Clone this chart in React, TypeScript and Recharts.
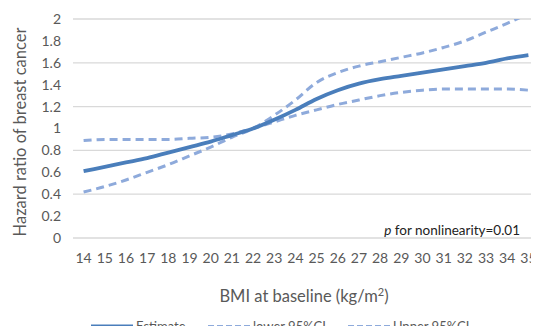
import React from "react";
import { LineChart, Line, XAxis, YAxis, CartesianGrid } from "recharts";

const bmi = [14, 15, 16, 17, 18, 19, 20, 21, 22, 23, 24, 25, 26, 27, 28, 29, 30, 31, 32, 33, 34, 35];
const estimate = [0.61, 0.65, 0.69, 0.73, 0.78, 0.83, 0.88, 0.94, 1.0, 1.08, 1.17, 1.27, 1.35, 1.41, 1.45, 1.48, 1.51, 1.54, 1.57, 1.6, 1.64, 1.67];
const lower = [0.89, 0.9, 0.9, 0.9, 0.9, 0.91, 0.92, 0.95, 1.0, 1.06, 1.12, 1.17, 1.22, 1.26, 1.3, 1.33, 1.35, 1.36, 1.36, 1.36, 1.36, 1.35];
const upper = [0.42, 0.47, 0.53, 0.6, 0.67, 0.75, 0.83, 0.92, 1.0, 1.12, 1.26, 1.42, 1.51, 1.57, 1.61, 1.65, 1.69, 1.74, 1.8, 1.88, 1.96, 2.05];
const yTicks = [0, 0.2, 0.4, 0.6, 0.8, 1, 1.2, 1.4, 1.6, 1.8, 2];
const legendItems = [
  { label: "Estimate", dashed: false, x: 91 },
  { label: "lower 95%CI", dashed: true, x: 208 },
  { label: "Upper 95%CI", dashed: true, x: 348 },
];

const data = bmi.map((b, i) => ({ bmi: b, est: estimate[i], lo: lower[i], up: upper[i] }));

const FONT = "Lato, 'Open Sans', sans-serif";
const TEXT = "#595959";
const DARK = "#4a7ebb";
const LIGHT = "#8eaadb";

// x axis title, plus the p-value note and the legend, all drawn in the svg
function BottomTexts() {
  return (
    <g>
      <text x={304} y={302} textAnchor="middle" fill={TEXT} fontSize={16.5} fontFamily={FONT}>
        BMI at baseline (kg/m
        <tspan fontSize={11} dy={-6}>2</tspan>
        <tspan dy={6}>)</tspan>
      </text>
      <text x={520} y={235} textAnchor="end" fill="#222" fontSize={13.5} fontFamily={FONT}>
        <tspan fontStyle="italic">p</tspan> for nonlinearity=0.01
      </text>
      {legendItems.map((it) => (
        <g key={it.label}>
          <line
            x1={it.x}
            x2={it.x + 42}
            y1={326.5}
            y2={326.5}
            stroke={it.dashed ? LIGHT : DARK}
            strokeWidth={it.dashed ? 3 : 4}
            strokeDasharray={it.dashed ? "6 3" : undefined}
          />
          <text x={it.x + 45} y={330.5} fill={TEXT} fontSize={13} fontFamily={FONT}>
            {it.label}
          </text>
        </g>
      ))}
    </g>
  );
}

export default function App() {
  return (
    <div style={{ margin: -8, width: 539, height: 334, position: "relative", overflow: "hidden", fontFamily: FONT, background: "#fff" }}>
      <LineChart width={541} height={334} data={data} margin={{ top: 19, right: 2, bottom: 0, left: 9 }}>
        <CartesianGrid vertical={false} stroke="#d9d9d9" strokeWidth={1.3} />
        <XAxis
          dataKey="bmi"
          axisLine={false}
          tickLine={false}
          tickSize={0}
          tickMargin={15}
          interval={0}
          height={96}
          padding={{ left: 10.6, right: 10.6 }}
          tick={{ fill: TEXT, fontSize: 14, fontFamily: FONT }}
          label={() => <BottomTexts />}
        />
        <YAxis
          domain={[0, 2]}
          ticks={yTicks}
          allowDataOverflow
          axisLine={false}
          tickLine={false}
          tickSize={0}
          tickMargin={12}
          width={64}
          tick={{ fill: TEXT, fontSize: 14, fontFamily: FONT }}
          tickFormatter={(v: number) => String(Number(v.toFixed(1)))}
          label={() => (
            <text
              x={26}
              y={132}
              transform="rotate(-90 26 132)"
              textAnchor="middle"
              fill={TEXT}
              fontSize={16.5}
              fontFamily={FONT}
            >
              Hazard ratio of breast cancer
            </text>
          )}
        />
        <Line type="monotone" dataKey="lo" stroke={LIGHT} strokeWidth={3} strokeDasharray="8 5" dot={false} isAnimationActive={false} />
        <Line type="monotone" dataKey="up" stroke={LIGHT} strokeWidth={3} strokeDasharray="8 5" dot={false} isAnimationActive={false} />
        <Line type="monotone" dataKey="est" stroke={DARK} strokeWidth={3.8} dot={false} isAnimationActive={false} />
      </LineChart>
    </div>
  );
}
